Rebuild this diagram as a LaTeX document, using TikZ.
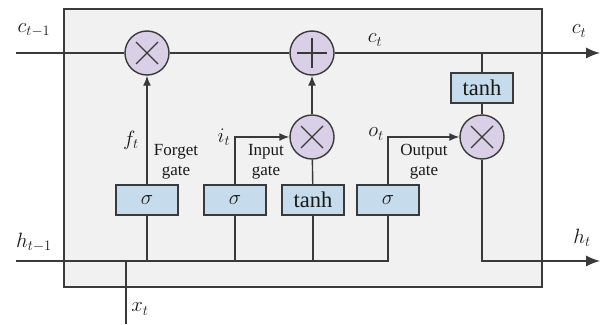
\documentclass[tikz,border=0pt]{standalone}
\usepackage{fontspec}
\setmainfont{Liberation Serif}
\usetikzlibrary{arrows.meta}
\definecolor{bgc}{HTML}{F1F1F1}
\definecolor{edgec}{HTML}{3A3A3A}
\definecolor{circc}{HTML}{D9CFE6}
\definecolor{boxc}{HTML}{C6DBEB}
\begin{document}
\begin{tikzpicture}[x=1pt,y=-1pt,
  line width=1.4pt,
  color=edgec,
  every node/.style={text=black!90},
  cellbox/.style={draw=edgec, fill=bgc, line width=1.5pt, minimum width=478pt, minimum height=278pt, inner sep=0pt},
  opcirc/.style={circle, draw=edgec, fill=circc, minimum size=44pt, inner sep=0pt},
  actbox/.style={draw=edgec, fill=boxc, minimum width=62pt, minimum height=30pt, inner sep=0pt, font=\fontsize{22.5}{24}\selectfont},
  lab/.style={inner sep=0pt, font=\fontsize{20}{22}\selectfont},
  gatelab/.style={inner sep=0pt, align=center, font=\fontsize{17}{20}\selectfont},
  arr/.style={-{Latex[length=10pt,width=8pt]}},
  bigarr/.style={-{Latex[length=14pt,width=11pt]}},
  sym/.style={line width=1.1pt}
]
\useasboundingbox (0,0) rectangle (602,324);
\path[fill=white] (0,0) rectangle (602,324);
\node[cellbox] (cell) at (303,148) {};

% operators
\node[opcirc] (fx) at (147,53) {};
\node[opcirc] (add) at (312,53) {};
\node[opcirc] (ix) at (312,137) {};
\node[opcirc] (ox) at (482,137) {};
\draw[sym] (fx.center) ++(-11pt,-11pt) -- ++(22pt,22pt) (fx.center) ++(-11pt,11pt) -- ++(22pt,-22pt);
\draw[sym] (ix.center) ++(-11pt,-11pt) -- ++(22pt,22pt) (ix.center) ++(-11pt,11pt) -- ++(22pt,-22pt);
\draw[sym] (ox.center) ++(-11pt,-11pt) -- ++(22pt,22pt) (ox.center) ++(-11pt,11pt) -- ++(22pt,-22pt);
\draw[sym] (add.center) ++(-15pt,0pt) -- ++(30pt,0pt) (add.center) ++(0pt,-15pt) -- ++(0pt,30pt);

% activation boxes
\node[actbox] (tanhc) at (482,88) {tanh};
\node[actbox] (sf) at (147,200) {$\sigma$};
\node[actbox] (si) at (235,200) {$\sigma$};
\node[actbox] (st) at (313,200) {tanh};
\node[actbox] (so) at (388,200) {$\sigma$};

% coordinates
\coordinate (cin) at (16,53);
\coordinate (cout) at (600,53);
\coordinate (ctap) at (482,53);
\coordinate (hin) at (16,261);
\coordinate (hout) at (600,261);
\coordinate (jf) at (147,261);
\coordinate (ji) at (235,261);
\coordinate (jt) at (313,261);
\coordinate (jo) at (388,261);
\coordinate (xj) at (126,261);
\coordinate (xin) at (126,324);

% cell state line
\draw (cin) -- (fx);
\draw (fx) -- (add);
\draw[bigarr] (add) -- (cout);
\draw (ctap) -- (tanhc);
\draw (tanhc) -- (ox);
\draw[bigarr] (ox) |- (hout);

% hidden input line
\draw (hin) -- (jo) -- (so);
\draw (jf) -- (sf);
\draw (ji) -- (si);
\draw (jt) -- (st);
\draw (xin) -- (xj);

% gates
\draw[arr] (sf) -- (fx);
\draw[arr] (si) |- (ix);
\draw (st) -- (ix);
\draw[arr] (ix) -- (add);
\draw[arr] (so) |- (ox);

% labels
\node[lab] (lc1) at (34,30) {$c_{t-1}$};
\node[lab] (lct) at (375,40) {$c_t$};
\node[lab] (lcto) at (579,31) {$c_t$};
\node[lab] (lht1) at (34,242) {$h_{t-1}$};
\node[lab] (lht) at (582,238) {$h_t$};
\node[lab] (lxt) at (140,309) {$x_t$};
\node[lab] (lft) at (131,140) {$f_t$};
\node[lab] (lit) at (224,137) {$i_t$};
\node[lab] (lot) at (376,134) {$o_t$};
\node[gatelab] (gf) at (176,162) {Forget\\gate};
\node[gatelab] (gi) at (266,162) {Input\\gate};
\node[gatelab] (go) at (424,162) {Output\\gate};
\end{tikzpicture}
\end{document}
